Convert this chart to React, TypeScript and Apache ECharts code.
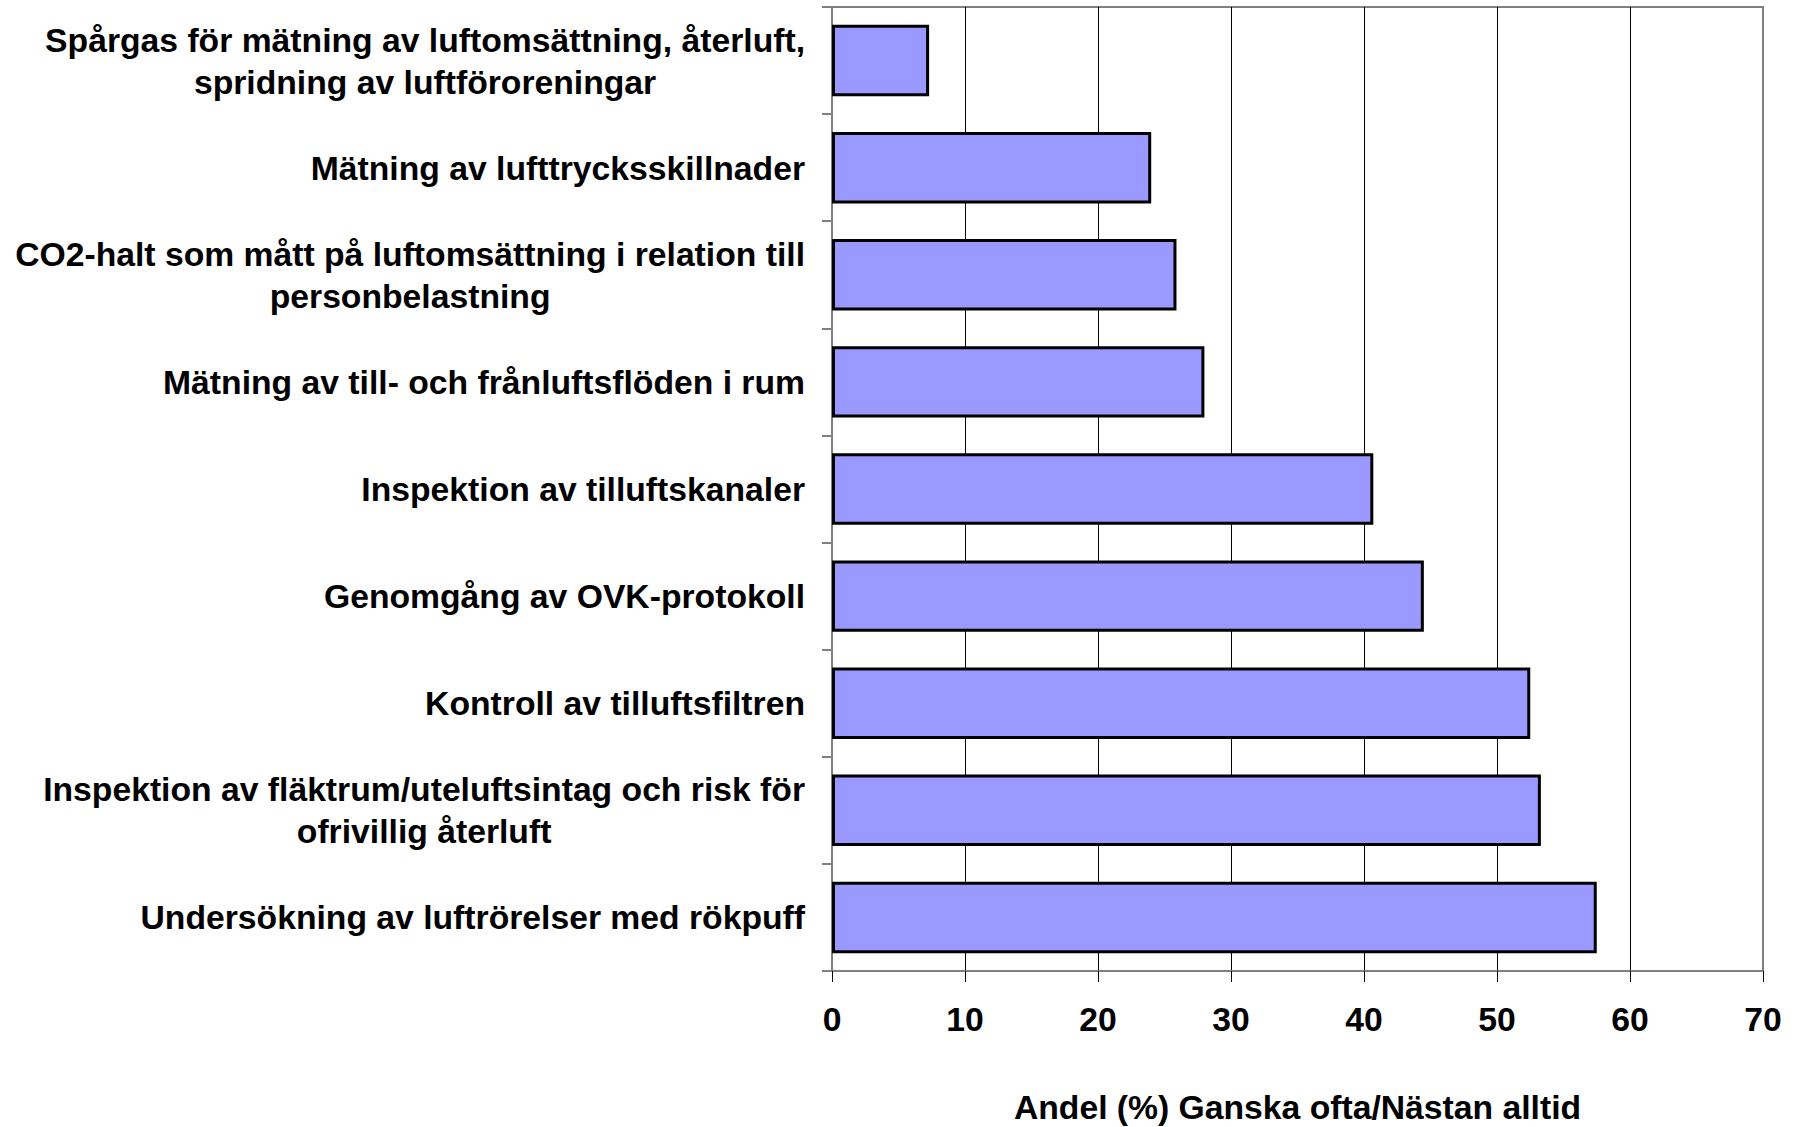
import React, { useEffect, useRef } from "react";
import * as echarts from "echarts";

const categories: string[] = [
  "Spårgas för mätning av luftomsättning, återluft,\nspridning av luftföroreningar",
  "Mätning av lufttrycksskillnader",
  "CO2-halt som mått på luftomsättning i relation till\npersonbelastning",
  "Mätning av till- och frånluftsflöden i rum",
  "Inspektion av tilluftskanaler",
  "Genomgång av OVK-protokoll",
  "Kontroll av tilluftsfiltren",
  "Inspektion av fläktrum/uteluftsintag och risk för\nofrivillig återluft",
  "Undersökning av luftrörelser med rökpuff",
];

const values: number[] = [7.3, 24.0, 25.9, 28.0, 40.7, 44.5, 52.5, 53.3, 57.5];

const xAxisTitle = "Andel (%) Ganska ofta/Nästan alltid";
const xMin = 0;
const xMax = 70;
const xInterval = 10;

const FONT = '"Liberation Sans", Arial, sans-serif';
const FS = 33.7;

export default function App() {
  const ref = useRef<HTMLDivElement>(null);

  useEffect(() => {
    if (!ref.current) return;
    const chart = echarts.init(ref.current, undefined, { renderer: "svg" });
    chart.setOption({
      animation: false,
      backgroundColor: "#ffffff",
      grid: {
        left: 832,
        right: 39,
        top: 7,
        bottom: 156,
        containLabel: false,
        outerBoundsMode: "none",
        show: true,
        borderColor: "#808080",
        borderWidth: 2,
        backgroundColor: "transparent",
      },
      xAxis: {
        type: "value",
        min: xMin,
        max: xMax,
        interval: xInterval,
        name: xAxisTitle,
        nameLocation: "middle",
        nameGap: 119,
        nameTextStyle: {
          fontFamily: FONT,
          fontSize: FS,
          fontWeight: "bold",
          color: "#000000",
        },
        axisLine: { show: true, lineStyle: { color: "#808080", width: 2 } },
        axisTick: { show: true, inside: false, length: 11, lineStyle: { color: "#000000", width: 1 } },
        splitLine: {
          show: true,
          showMinLine: false,
          showMaxLine: false,
          lineStyle: { color: "#000000", width: 1 },
        },
        axisLabel: {
          fontFamily: FONT,
          fontSize: FS,
          fontWeight: "bold",
          color: "#000000",
          margin: 31,
        },
      },
      yAxis: {
        type: "category",
        data: categories,
        inverse: true,
        axisLine: { show: true, lineStyle: { color: "#808080", width: 2 } },
        axisTick: { show: true, inside: false, length: 10, lineStyle: { color: "#808080", width: 2 } },
        splitLine: { show: false },
        axisLabel: {
          margin: 27,
          fontFamily: FONT,
          fontSize: FS,
          fontWeight: "bold",
          color: "#000000",
          lineHeight: 42,
          formatter: (v: string) =>
            v
              .split("\n")
              .map((l) => `{c|${l}}`)
              .join("\n"),
          rich: {
            c: {
              align: "center",
              fontFamily: FONT,
              fontSize: FS,
              fontWeight: "bold",
              color: "#000000",
              lineHeight: 42,
            },
          },
        },
      },
      series: [
        {
          type: "bar",
          data: values,
          barCategoryGap: "33.3%",
          itemStyle: {
            color: "#9999ff",
            borderColor: "#000000",
            borderWidth: 3,
          },
          emphasis: { disabled: true },
        },
      ],
    });
    return () => chart.dispose();
  }, []);

  return (
    <div
      ref={ref}
      style={{ position: "fixed", left: 0, top: 0, width: 1802, height: 1127, background: "#fff" }}
    />
  );
}
